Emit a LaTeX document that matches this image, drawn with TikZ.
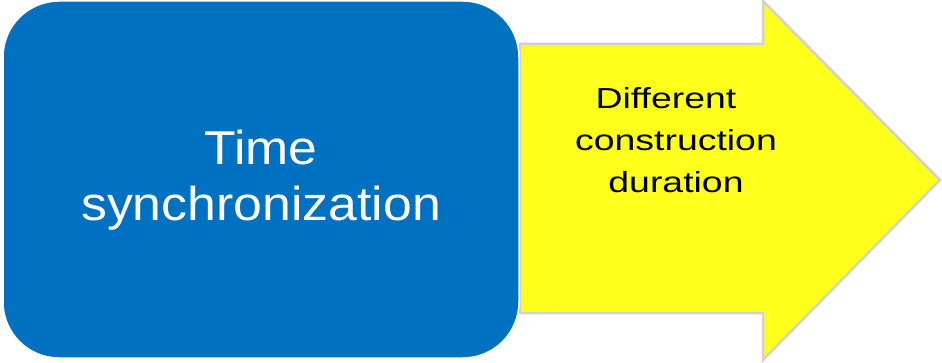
\documentclass[tikz,border=0pt]{standalone}
\usepackage{fontspec}
\setmainfont{Liberation Sans}
\newfontfamily\bluefont[FakeStretch=1.09]{Liberation Sans}
\newfontfamily\yellowfont[FakeStretch=1.29]{Liberation Sans}
\definecolor{boxblue}{HTML}{0070C0}
\definecolor{arrowyellow}{HTML}{FFFF1C}
\definecolor{arrowedge}{HTML}{D0D2D0}
\begin{document}
\begin{tikzpicture}[x=1pt,y=1pt,
  bluebox/.style={fill=boxblue,draw=white,line width=1.5pt,rounded corners=56pt},
  yellowarrow/.style={fill=arrowyellow,draw=arrowedge,line width=2.5pt,line join=miter},
  bluetext/.style={text=white,align=center,inner sep=0pt,font=\bluefont\fontsize{47.5}{56}\selectfont},
  yellowtext/.style={text=black,align=center,inner sep=0pt,font=\yellowfont\fontsize{29}{42}\selectfont}]
\useasboundingbox (0,0) rectangle (942,362);
% arrow
\draw[yellowarrow] (520,318) -- (763,318) -- (763,361) -- (940,182) -- (763,2) -- (763,49) -- (520,49) -- cycle;
% blue box
\draw[bluebox] (3,4) rectangle (519,361);
\node[bluetext] (time) at (261,182) {Time\\synchronization};
\node[yellowtext] (diff) at (676,222) {Different\kern 20pt\\construction\\duration};
\end{tikzpicture}
\end{document}
